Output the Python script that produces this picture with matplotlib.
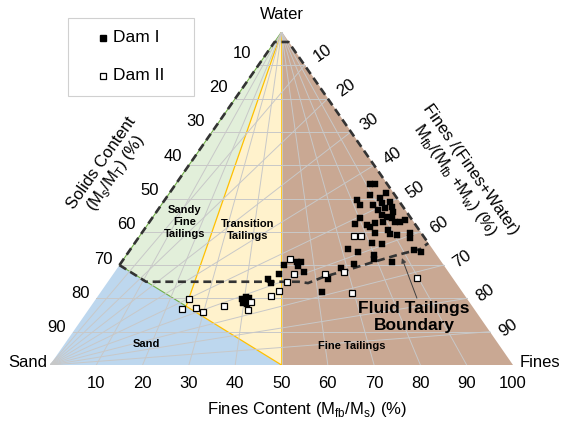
import numpy as np
import matplotlib.pyplot as plt
from matplotlib.patches import Polygon, Rectangle
from matplotlib.lines import Line2D

plt.rcParams['font.family'] = ['Liberation Sans', 'DejaVu Sans']

# Dam I samples: fines content Mfb/Ms (%) and solids content Ms/MT (%)
dam1_fines = [92.0, 94.3, 89.1, 96.8, 82.3, 82.6, 92.7, 92.2, 95.8, 95.3,
              88.0, 88.9, 92.2, 94.5, 89.4, 91.0, 92.7, 80.3, 77.5, 81.8,
              82.6, 85.1, 88.4, 92.9, 94.8, 97.2, 83.4, 88.6, 88.6, 90.9,
              95.9, 94.8, 80.8, 84.0, 72.0, 75.0, 79.8, 79.3, 84.5, 93.7,
              95.6, 72.4, 68.1, 63.5, 61.2, 50.7, 54.8, 56.1, 55.1, 56.7,
              49.2, 46.1, 47.0, 39.4, 40.4, 41.2, 39.8, 40.9]
dam1_solids = [45.6, 45.6, 48.9, 48.3, 50.5, 52.0, 49.8, 51.4, 51.1, 52.6,
               52.0, 53.5, 52.9, 54.1, 55.0, 55.6, 55.9, 55.9, 57.7, 58.0,
               58.6, 57.4, 57.1, 57.1, 57.1, 56.5, 60.4, 59.5, 60.7, 61.0,
               60.4, 61.9, 63.4, 63.7, 65.2, 66.1, 67.0, 68.2, 69.1, 65.5,
               66.1, 69.7, 70.9, 74.2, 78.1, 70.0, 69.1, 69.1, 70.3, 72.1,
               72.7, 74.2, 75.4, 80.2, 79.6, 79.9, 81.4, 81.7]

# Dam II samples
dam2_fines = [52.7, 53.7, 51.6, 49.3, 47.1, 62.9, 68.7, 75.5, 78.0, 69.4,
              89.6, 25.1, 24.2, 27.7, 29.8, 34.9, 41.9, 41.3]
dam2_solids = [68.2, 72.7, 75.1, 77.8, 79.3, 72.7, 72.1, 61.3, 61.3, 78.4,
               73.9, 80.2, 83.2, 82.9, 84.1, 82.3, 81.1, 83.5]

# fluid tailings boundary (fines content %, solids content %)
boundary_fines = [0, 11, 55, 57.6, 62.2, 69.8, 78.6, 87.2, 95.9, 100]
boundary_solids = [70, 75, 75, 75.4, 73.6, 71.5, 69.1, 67.0, 65.2, 63.4]

# class limits
sand_solids = 70      # sand line starts on the water-sand edge here
sand_fines = 50       # ... and ends on the base here
sandy_fines = 25      # sandy fine / transition split
fine_tailings = 50    # transition / fine tailings split
cap_solids = 3
arrow_point = (88.3, 67.9)

ticks = list(range(10, 100, 10))
bottom_ticks = list(range(10, 110, 10))


def tern(fines, solids):
    f = np.asarray(fines, dtype=float) / 100
    s = np.asarray(solids, dtype=float) / 100
    water = 1 - s
    return f * s + 0.5 * water, water


def intersect(p1, p2, p3, p4):
    p1, p2, p3, p4 = map(np.asarray, (p1, p2, p3, p4))
    a = np.column_stack([p2 - p1, p3 - p4])
    t = np.linalg.solve(a, p3 - p1)[0]
    return p1 + t * (p2 - p1)


W, H = 562, 421
fig = plt.figure(figsize=(W / 100, H / 100), dpi=100)
ax = fig.add_axes([50 / W, 56 / H, 463 / W, 333 / H])
ax.set_xlim(0, 1)
ax.set_ylim(0, 1)
ax.axis('off')

apex = np.array(tern(0, 0))
sand_v = np.array(tern(0, 100))
fines_v = np.array(tern(100, 100))
mid = np.array(tern(fine_tailings, 100))
left70 = np.array(tern(0, sand_solids))
sand_end = np.array(tern(sand_fines, 100))
junction = intersect(left70, sand_end, apex, np.array(tern(sandy_fines, 100)))

ax.add_patch(Polygon([sand_v, left70, sand_end], fc='#bdd7ee', ec='none', zorder=1))
ax.add_patch(Polygon([apex, left70, junction], fc='#e2efda', ec='none', zorder=1))
ax.add_patch(Polygon([apex, junction, sand_end, mid], fc='#fff2cc', ec='none', zorder=1))
ax.add_patch(Polygon([apex, mid, fines_v], fc='#c9a893', ec='none', zorder=1))

# region borders
ax.plot(*zip(left70, junction), color='#70ad47', lw=0.8, zorder=1.5)
ax.plot(*zip(apex, left70), color='#70ad47', lw=0.8, zorder=1.5)
ax.plot(*zip(apex, junction, sand_end), color='#ffc000', lw=0.9, zorder=1.5)
ax.plot(*zip(apex, mid), color='#ffc000', lw=1.2, zorder=1.5)

# grid
for k in ticks:
    ax.plot(*zip(tern(0, k), tern(100, k)), color='#c8c8c8', lw=0.7, zorder=2)
    ax.plot(*zip(apex, tern(k, 100)), color='#c8c8c8', lw=0.7, zorder=2)
    ax.plot(*zip(sand_v, tern(100, k)), color='#c8c8c8', lw=0.7, zorder=2)

# dashed outline and fluid tailings boundary
ol_f = [0, 0, 100, 100]
ol_s = [sand_solids, cap_solids, cap_solids, boundary_solids[-1]]
ax.plot(*tern(ol_f, ol_s), color='#333333', lw=1.9, ls=(0, (3, 1.8)), zorder=3)
ax.plot(*tern(boundary_fines, boundary_solids), color='#333333', lw=1.9,
        ls=(0, (3, 1.8)), zorder=3)

ax.plot(*tern(dam1_fines, dam1_solids), ls='none', marker='s', ms=5.0,
        mfc='black', mec='black', mew=0.3, zorder=4)
ax.plot(*tern(dam2_fines, dam2_solids), ls='none', marker='s', ms=4.4,
        mfc='white', mec='black', mew=0.9, zorder=4)

ax.annotate('', xy=tern(*arrow_point), xytext=(15, -40), textcoords='offset pixels',
            arrowprops=dict(arrowstyle='-|>', color='#404040', lw=0.7,
                            mutation_scale=7, shrinkA=0, shrinkB=0), zorder=5)

# tick labels
for k in ticks:
    up = 13 - 0.1 * k
    ax.annotate(str(k), xy=tern(0, k), xytext=(-7, up), textcoords='offset pixels',
                ha='right', va='center', fontsize=12)
    ax.annotate(str(k), xy=tern(100, k), xytext=(18.5, up), textcoords='offset pixels',
                ha='center', va='center', fontsize=12, rotation=35)
for k in bottom_ticks:
    ax.annotate(str(k), xy=tern(k, 100), xytext=(0, -19), textcoords='offset pixels',
                ha='center', va='center', fontsize=12)

ax.text(0.5, 1.054, 'Water', ha='center', va='center', fontsize=12)
ax.text(-0.006, 0.009, 'Sand', ha='right', va='center', fontsize=12)
ax.text(1.015, 0.009, 'Fines', ha='left', va='center', fontsize=12)
ax.text(0.555, -0.135, r'Fines Content (M$_\mathregular{fb}$/M$_\mathregular{s}$) (%)',
        ha='center', va='center', fontsize=12)
ax.text(0.1285, 0.59, 'Solids Content\n' + r'(M$_\mathregular{s}$/M$_\mathregular{T}$) (%)',
        ha='center', va='center', fontsize=12, rotation=55, linespacing=1.1)
ax.text(0.89, 0.571, 'Fines /(Fines+Water)\n'
        + r'M$_\mathregular{fb}$/(M$_\mathregular{fb}$ +M$_\mathregular{w}$) (%)',
        ha='center', va='center', fontsize=12, rotation=-55, linespacing=1.1)

ax.text(0.2916, 0.4294, 'Sandy\nFine\nTailings', ha='center', va='center',
        fontsize=8, fontweight='bold', linespacing=1.25)
ax.text(0.4276, 0.4054, 'Transition\nTailings', ha='center', va='center',
        fontsize=8, fontweight='bold', linespacing=1.25)
ax.text(0.2073, 0.0631, 'Sand', ha='center', va='center', fontsize=8, fontweight='bold')
ax.text(0.6523, 0.0571, 'Fine Tailings', ha='center', va='center', fontsize=8,
        fontweight='bold')
ax.text(0.7862, 0.1441, 'Fluid Tailings\nBoundary', ha='center', va='center',
        fontsize=12.5, fontweight='bold', linespacing=1.15)


# legend box
def fpos(x, y):
    return x / W, 1 - y / H


fig.add_artist(Rectangle(fpos(68, 96), 126 / W, 78 / H, transform=fig.transFigure,
                         fc='white', ec='#d0d0d0', lw=0.8))
fig.add_artist(Line2D(*zip(fpos(103, 38)), marker='s', ms=5.0, mfc='black',
                      mec='black', ls='none', transform=fig.transFigure))
fig.add_artist(Line2D(*zip(fpos(103, 76)), marker='s', ms=4.4, mfc='white',
                      mec='black', mew=0.9, ls='none', transform=fig.transFigure))
fig.text(*fpos(113, 38), 'Dam I', ha='left', va='center', fontsize=12.5)
fig.text(*fpos(113, 76), 'Dam II', ha='left', va='center', fontsize=12.5)

fig.savefig('out.png', dpi=100)
